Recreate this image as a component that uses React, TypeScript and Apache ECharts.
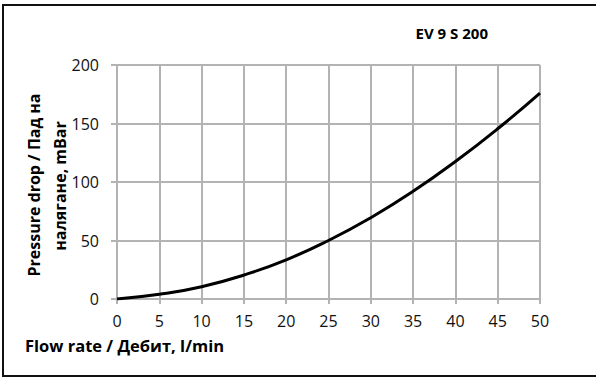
import React, { useEffect, useRef } from "react";
import * as echarts from "echarts";

const flowRate = [0, 5, 10, 15, 20, 25, 30, 35, 40, 45, 50];
const pressureDrop = [0, 4, 10.5, 20.5, 33.5, 50, 69.5, 92, 117.5, 145.5, 176];
const titleText = "EV 9 S 200";
const xName = "Flow rate / Дебит, l/min";
const yNameLine1 = "Pressure drop / Пад на";
const yNameLine2 = "налягане, mBar";

const FONT = "'Open Sans', 'Noto Sans', sans-serif";

export default function App() {
  const ref = useRef<HTMLDivElement>(null);
  useEffect(() => {
    if (!ref.current) return;
    const chart = echarts.init(ref.current, null, { renderer: "svg" });
    const gridColor = "#b3b3b3";
    chart.setOption({
      animation: false,
      backgroundColor: "#ffffff",
      grid: { left: 117, right: 56, top: 65, bottom: 81, containLabel: false },
      xAxis: {
        type: "value",
        min: 0,
        max: 50,
        interval: 5,
        axisLine: { show: true, lineStyle: { color: gridColor, width: 2 } },
        axisTick: { show: true, length: 5, lineStyle: { color: gridColor, width: 2 } },
        axisLabel: { margin: 14, fontSize: 16, color: "#111", fontFamily: FONT },
        splitLine: { show: true, lineStyle: { color: gridColor, width: 2 } },
      },
      yAxis: {
        type: "value",
        min: 0,
        max: 200,
        interval: 50,
        axisLine: { show: true, lineStyle: { color: gridColor, width: 2 } },
        axisTick: { show: true, length: 6, lineStyle: { color: gridColor, width: 2 } },
        axisLabel: { margin: 18, fontSize: 16, color: "#111", fontFamily: FONT },
        splitLine: { show: true, lineStyle: { color: gridColor, width: 2 } },
      },
      series: [
        {
          type: "line",
          data: flowRate.map((x, i) => [x, pressureDrop[i]]),
          smooth: true,
          showSymbol: false,
          lineStyle: { color: "#000", width: 3 },
        },
      ],
      graphic: [
        {
          type: "rect",
          shape: { x: 3, y: 5, width: 600, height: 371 },
          style: { fill: "none", stroke: "#111", lineWidth: 2 },
          silent: true,
          z: 100,
        },
        {
          type: "text",
          x: 488,
          y: 33,
          style: {
            text: titleText,
            font: `bold 15px ${FONT}`,
            fill: "#000",
            align: "right",
            verticalAlign: "middle",
          },
        },
        {
          type: "text",
          x: 25,
          y: 345,
          style: {
            text: xName,
            font: `bold 16.5px ${FONT}`,
            fill: "#000",
            align: "left",
            verticalAlign: "middle",
          },
        },
        {
          type: "text",
          x: 34,
          y: 185,
          rotation: Math.PI / 2,
          style: {
            text: yNameLine1,
            font: `bold 16px ${FONT}`,
            fill: "#000",
            align: "center",
            verticalAlign: "middle",
          },
        },
        {
          type: "text",
          x: 60,
          y: 186,
          rotation: Math.PI / 2,
          style: {
            text: yNameLine2,
            font: `bold 16px ${FONT}`,
            fill: "#000",
            align: "center",
            verticalAlign: "middle",
          },
        },
      ],
    });
    return () => chart.dispose();
  }, []);
  return (
    <div
      ref={ref}
      style={{ position: "fixed", left: 0, top: 0, width: 596, height: 380 }}
    />
  );
}
